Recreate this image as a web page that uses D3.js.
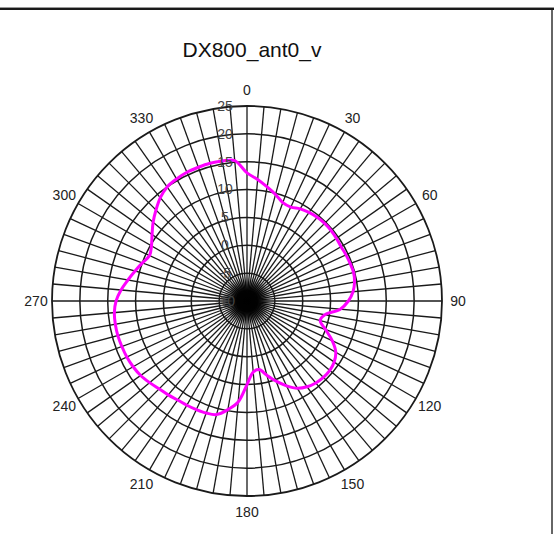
<!DOCTYPE html>
<html lang="en">
<head>
    <meta charset="UTF-8">
    <script src="https://cdnjs.cloudflare.com/ajax/libs/d3/7.8.5/d3.min.js"></script>
    <title>DX800_ant0_v</title>
    <style>
        body { margin: 0; background: #fff; }
        svg { display: block; font-family: "Liberation Sans", Arial, sans-serif; }
    </style>
</head>
<body>
    <div id="container"></div>
    <script>
        // ---------------- data ----------------
        const title = "DX800_ant0_v"
        // angle in degrees (0 = top, clockwise) and gain in dB
        const angles = d3.range(0, 360, 5)
        const gain = [
            13.0, 11.9, 10.8, 9.8, 8.8, 8.6, 9.1, 9.4, 9.6, 9.7, 9.7, 9.6,     // 0 - 55
            9.5, 9.6, 9.7, 9.8, 9.6, 9.1, 8.2, 6.8, 4.2, 3.6, 5.0, 6.9,        // 60 - 115
            8.4, 9.1, 9.4, 9.4, 9.2, 8.8, 8.1, 6.8, 5.3, 3.8, 2.5, 2.8,        // 120 - 175
            5.0, 8.2, 9.8, 11.1, 11.4, 11.5, 11.6, 11.7, 12.0, 12.3, 12.8, 13.3, // 180 - 235
            13.6, 13.8, 13.9, 14.0, 14.0, 13.9, 13.5, 12.7, 11.7, 10.8, 10.0, 9.3, // 240 - 295
            9.8, 10.8, 12.0, 13.1, 14.2, 15.0, 15.3, 15.5, 15.55, 15.6, 15.5, 15.3 // 300 - 355
        ]
        const ringValues = [25, 20, 15, 10, 5, 0, -5]
        const ringLabels = [25, 20, 15, 10, 5, 0, -5, -10]
        const angleLabels = d3.range(0, 360, 30)
        const spokeAngles = d3.range(0, 360, 5)

        // ---------------- layout ----------------
        const width = 554, height = 534
        const cx = 247, cy = 301, R = 195

        const svg = d3.select("#container").append("svg")
            .attr("width", width)
            .attr("height", height)

        // dark blob where the spokes meet
        const defs = svg.append("defs")
        const grad = defs.append("radialGradient").attr("id", "hub")
        grad.append("stop").attr("offset", "0%").attr("stop-color", "#000").attr("stop-opacity", 1)
        grad.append("stop").attr("offset", "45%").attr("stop-color", "#000").attr("stop-opacity", 0.95)
        grad.append("stop").attr("offset", "100%").attr("stop-color", "#000").attr("stop-opacity", 0)

        // frame lines
        svg.append("rect").attr("x", 0).attr("y", 7).attr("width", 554).attr("height", 1).attr("fill", "#999")
        svg.append("rect").attr("x", 0).attr("y", 8).attr("width", 554).attr("height", 2).attr("fill", "#1a1a1a")
        svg.append("rect").attr("x", 551).attr("y", 10).attr("width", 2).attr("height", 524).attr("fill", "#666")

        svg.append("text")
            .attr("x", 252).attr("y", 57)
            .attr("text-anchor", "middle")
            .attr("font-size", 21)
            .attr("fill", "#111")
            .text(title)

        const r = d3.scaleLinear().domain([-10, 25]).range([0, R])
        const toRad = d => d * Math.PI / 180

        const g = svg.append("g").attr("transform", `translate(${cx},${cy})`)

        // spokes
        g.selectAll("line.spoke")
            .data(spokeAngles)
            .enter().append("line")
            .attr("class", "spoke")
            .attr("x1", 0).attr("y1", 0)
            .attr("x2", d => r(25) * Math.sin(toRad(d)))
            .attr("y2", d => -r(25) * Math.cos(toRad(d)))
            .attr("stroke", "#1a1a1a")
            .attr("stroke-width", 1.3)

        g.append("circle")
            .attr("r", 24)
            .attr("fill", "url(#hub)")

        // rings
        g.selectAll("circle.ring")
            .data(ringValues)
            .enter().append("circle")
            .attr("class", "ring")
            .attr("r", d => r(d))
            .attr("fill", "none")
            .attr("stroke", "#1a1a1a")
            .attr("stroke-width", d => d === 25 ? 1.8 : 1.5)

        // pattern
        const line = d3.lineRadial()
            .angle((d, i) => toRad(angles[i]))
            .radius(d => r(d))
            .curve(d3.curveCatmullRomClosed)

        g.append("path")
            .datum(gain)
            .attr("d", line)
            .attr("fill", "none")
            .attr("stroke", "#ff00ff")
            .attr("stroke-width", 3)

        // radial labels
        g.selectAll("text.rlab")
            .data(ringLabels)
            .enter().append("text")
            .attr("class", "rlab")
            .attr("x", -22)
            .attr("y", d => -r(d))
            .attr("dy", "0.35em")
            .attr("text-anchor", "middle")
            .attr("font-size", 14)
            .attr("fill", "#444")
            .text(d => d)

        // angle labels
        g.selectAll("text.alab")
            .data(angleLabels)
            .enter().append("text")
            .attr("class", "alab")
            .attr("x", d => 211 * Math.sin(toRad(d)))
            .attr("y", d => -211 * Math.cos(toRad(d)))
            .attr("dy", "0.35em")
            .attr("text-anchor", "middle")
            .attr("font-size", 14)
            .attr("fill", "#222")
            .text(d => d)
    </script>
</body>
</html>
